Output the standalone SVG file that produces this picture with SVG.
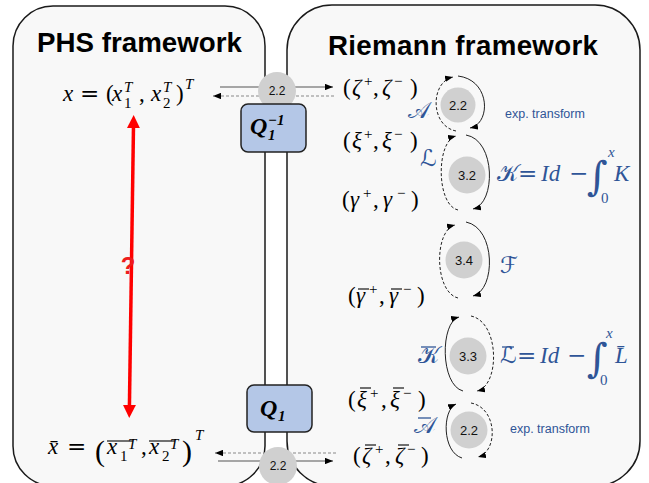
<svg xmlns="http://www.w3.org/2000/svg" width="649" height="483" viewBox="0 0 649 483">
<style>
.panel{fill:#f8f8f8;stroke:#1a1a1a;stroke-width:1.5}
.title{font-family:"Liberation Sans",Arial,sans-serif;font-weight:bold;fill:#000;font-size:27.7px}
.m{font-family:"Liberation Serif","DejaVu Serif",serif;font-size:23px;fill:#000}
.i{font-style:italic}
.s{font-size:15px}
.op{font-family:"DejaVu Serif","Liberation Serif",serif;font-style:normal}
.b{fill:#2f5597}
.sc{font-family:"DejaVu Serif","DejaVu Sans","Noto Sans",serif;font-style:normal}
.int{font-family:"DejaVu Serif","Liberation Serif",serif;font-size:40px;font-style:normal}
.circ{fill:#d0d0d0}
.ct{font-family:"Liberation Sans",Arial,sans-serif;font-size:13px;fill:#111;text-anchor:middle}
.ctm{font-size:12px}
.qbox{fill:#b4c7e7;stroke:#222;stroke-width:1.5}
.q{font-family:"Liberation Serif","DejaVu Serif",serif;font-weight:bold;font-style:italic;fill:#000}
.sol{fill:none;stroke:#222;stroke-width:1}
.dash{fill:none;stroke:#222;stroke-width:1;stroke-dasharray:3 2}
.ht{fill:none;stroke:#555;stroke-width:1}
.hd{fill:none;stroke:#888;stroke-width:1.2;stroke-dasharray:3 2}
.exp{font-family:"Liberation Sans",Arial,sans-serif;font-size:12.5px;fill:#2f5597}
.ovl{stroke:#000;stroke-width:1.1}
.bbar{stroke:#2f5597;stroke-width:1.3}
</style>
<defs>
<marker id="ah" viewBox="0 0 10 8" refX="10" refY="4" markerWidth="8" markerHeight="6.4" markerUnits="userSpaceOnUse" orient="auto"><path d="M0,0 L10,4 L0,8 z" fill="#000"/></marker>
<marker id="rh" viewBox="0 0 10 10" refX="2" refY="5" markerWidth="13" markerHeight="13" markerUnits="userSpaceOnUse" orient="auto-start-reverse"><path d="M0,0 L10,5 L0,10 z" fill="#ff0000"/></marker>
</defs>

<g id="phs-panel">
<rect class="panel" x="13" y="6" width="252" height="480" rx="40"/>
<text class="title" x="37" y="52" textLength="205">PHS framework</text>
</g>
<g id="riemann-panel">
<rect class="panel" x="287" y="5" width="353" height="481" rx="45"/>
<text class="title" x="328" y="55" textLength="270">Riemann framework</text>
</g>

<g id="x-top" class="m">
<text class="i" x="63" y="101">x</text>
<text class="op" x="80" y="101">=</text>
<text x="106" y="101">(</text>
<text class="i" x="112" y="101">x</text>
<text class="i s" x="124" y="92">T</text>
<text class="s" x="124" y="108">1</text>
<text x="139" y="101">,</text>
<text class="i" x="151" y="101">x</text>
<text class="i s" x="163" y="92">T</text>
<text class="s" x="163" y="108">2</text>
<text x="176" y="101">)</text>
<text class="i s" x="185" y="89">T</text>
</g>

<g id="x-bottom" class="m">
<text class="i" x="48" y="454">x̄</text>
<text class="op" x="67" y="454">=</text>
<text x="95" y="461" font-size="30">(</text>
<text class="i" x="107" y="454">x</text>
<text class="s" x="120" y="461">1</text>
<text class="i s" x="128" y="449">T</text>
<text x="141" y="454">,</text>
<text class="i" x="149" y="454">x</text>
<text class="s" x="162" y="461">2</text>
<text class="i s" x="170" y="449">T</text>
<text x="182" y="461" font-size="30">)</text>
<text class="i s" x="195" y="440">T</text>
<line class="ovl" x1="107" y1="441" x2="133" y2="441"/>
<line class="ovl" x1="149" y1="441" x2="175" y2="441"/>
</g>

<g id="zeta" class="m">
<text x="343" y="95">(</text><text class="i" x="352" y="95">ζ</text><text class="s" x="364" y="86">+</text><text x="373" y="95">,</text><text class="i" x="382" y="95">ζ</text><text class="s" x="394" y="86">−</text><text x="410" y="95">)</text>
</g>
<g id="xi" class="m">
<text x="343" y="148">(</text><text class="i" x="352" y="148">ξ</text><text class="s" x="364" y="139">+</text><text x="373" y="148">,</text><text class="i" x="382" y="148">ξ</text><text class="s" x="394" y="139">−</text><text x="410" y="148">)</text>
</g>
<g id="gamma" class="m">
<text x="342" y="207">(</text><text class="i" x="350" y="207">γ</text><text class="s" x="363" y="198">+</text><text x="373" y="207">,</text><text class="i" x="383" y="207">γ</text><text class="s" x="397" y="198">−</text><text x="411" y="207">)</text>
</g>
<g id="gamma-bar" class="m">
<text x="348" y="303">(</text><text class="i" x="356" y="303">γ</text><text class="s" x="369" y="294">+</text><text x="379" y="303">,</text><text class="i" x="389" y="303">γ</text><text class="s" x="403" y="294">−</text><text x="417" y="303">)</text>
<line class="ovl" x1="358" y1="289" x2="369" y2="289"/><line class="ovl" x1="391" y1="289" x2="402" y2="289"/>
</g>
<g id="xi-bar" class="m">
<text x="348" y="407">(</text><text class="i" x="357" y="407">ξ</text><text class="s" x="370" y="398">+</text><text x="381" y="407">,</text><text class="i" x="390" y="407">ξ</text><text class="s" x="403" y="398">−</text><text x="418" y="407">)</text>
<line class="ovl" x1="360" y1="388" x2="371" y2="388"/><line class="ovl" x1="393" y1="388" x2="404" y2="388"/>
</g>
<g id="zeta-bar" class="m">
<text x="353" y="463">(</text><text class="i" x="362" y="463">ζ</text><text class="s" x="375" y="454">+</text><text x="385" y="463">,</text><text class="i" x="395" y="463">ζ</text><text class="s" x="407" y="454">−</text><text x="421" y="463">)</text>
<line class="ovl" x1="365" y1="445" x2="376" y2="445"/><line class="ovl" x1="398" y1="445" x2="409" y2="445"/>
</g>

<g id="label-A" class="m b"><text class="sc" x="408" y="118">𝒜</text></g>
<g id="label-L" class="m b"><text class="sc" x="420" y="166">ℒ</text></g>
<g id="label-K" class="m b">
<text class="sc" x="497" y="181">𝒦</text>
<text class="op" x="518" y="181">=</text>
<text class="i" x="541" y="181">Id</text>
<text class="op" x="569" y="181">−</text>
<text class="int" x="587" y="190">∫</text>
<text class="i s" x="608" y="157">x</text>
<text class="s" x="601" y="203">0</text>
<text class="i" x="614" y="181">K</text>
</g>
<g id="label-F" class="m b"><text class="sc" x="500" y="273">ℱ</text></g>
<g id="label-Kbar" class="m b"><text class="sc" x="418" y="363">𝒦</text><line class="bbar" x1="421" y1="347" x2="436" y2="347"/></g>
<g id="label-Lbar" class="m b">
<text class="sc" x="500" y="363">ℒ</text><line class="bbar" x1="502" y1="347" x2="514" y2="347"/>
<text class="op" x="517" y="363">=</text>
<text class="i" x="540" y="363">Id</text>
<text class="op" x="567" y="363">−</text>
<text class="int" x="587" y="372">∫</text>
<text class="i s" x="606" y="338">x</text>
<text class="s" x="600" y="385">0</text>
<text class="i" x="615" y="363">L̄</text>
</g>
<g id="label-Abar" class="m b"><text class="sc" x="414" y="433">𝒜</text><line class="bbar" x1="418" y1="418" x2="431" y2="418"/></g>
<text id="exp-top" class="exp" x="505" y="118">exp. transform</text>
<text id="exp-bottom" class="exp" x="510" y="433">exp. transform</text>

<g id="connectors">
<path class="ht" d="M220,87 L333,87" marker-end="url(#ah)"/>
<path class="hd" d="M334,96 L213,96" marker-end="url(#ah)"/>
<path class="hd" d="M336,453 L215,453" marker-end="url(#ah)"/>
<path class="ht" d="M218,461 L333,461" marker-end="url(#ah)"/>
<path d="M133.5,125.5 L129.4,407.5" stroke="#ff0000" stroke-width="3.5" fill="none" marker-start="url(#rh)" marker-end="url(#rh)"/>
<path class="dash" d="M456,131 C430,126 430,82 453,77" marker-end="url(#ah)"/>
<path class="sol" d="M458,76 C491,80 491,124 470,128" marker-end="url(#ah)"/>
<path class="dash" d="M458,210 C436,205 436,141 456,136" marker-end="url(#ah)"/>
<path class="sol" d="M466,135 C496,140 496,204 473,209" marker-end="url(#ah)"/>
<path class="dash" d="M458,298 C434,292 434,230 455,225" marker-end="url(#ah)"/>
<path class="sol" d="M466,222 C496,228 496,290 473,296" marker-end="url(#ah)"/>
<path class="sol" d="M463,391 C440,385 440,322 459,317" marker-end="url(#ah)"/>
<path class="dash" d="M471,316 C500,322 500,386 477,391" marker-end="url(#ah)"/>
<path class="sol" d="M462,458 C442,452 442,410 456,404" marker-end="url(#ah)"/>
<path class="dash" d="M471,403 C498,408 498,452 478,457" marker-end="url(#ah)"/>
</g>

<text id="question" x="128" y="274" font-family="Liberation Sans,Arial,sans-serif" font-weight="bold" font-size="24" fill="#ee1c1c" text-anchor="middle">?</text>

<g id="c-top"><circle class="circ" cx="277" cy="91" r="19"/><text class="ct ctm" x="277" y="95">2.2</text></g>
<g id="q-inv">
<rect class="qbox" x="241" y="104" width="65" height="48" rx="7"/>
<text class="q" x="250" y="134" font-size="24">Q</text>
<text class="q" x="268" y="125" font-size="15">−1</text>
<text class="q" x="268" y="140" font-size="15">1</text>
</g>
<g id="q">
<rect class="qbox" x="247" y="385" width="65" height="47" rx="7"/>
<text class="q" x="260" y="416" font-size="24">Q</text>
<text class="q" x="278" y="421" font-size="15">1</text>
</g>
<g id="c-bottom"><circle class="circ" cx="278" cy="466" r="19"/><text class="ct ctm" x="278" y="470">2.2</text></g>

<g id="c1"><circle class="circ" cx="458" cy="105" r="17.5"/><text class="ct" x="458" y="110">2.2</text></g>
<g id="c2"><circle class="circ" cx="467" cy="175" r="18.5"/><text class="ct" x="467" y="180">3.2</text></g>
<g id="c3"><circle class="circ" cx="464" cy="260" r="18.5"/><text class="ct" x="464" y="265">3.4</text></g>
<g id="c4"><circle class="circ" cx="468" cy="356" r="18.5"/><text class="ct" x="468" y="361">3.3</text></g>
<g id="c5"><circle class="circ" cx="469" cy="430" r="18.5"/><text class="ct" x="469" y="435">2.2</text></g>
</svg>
